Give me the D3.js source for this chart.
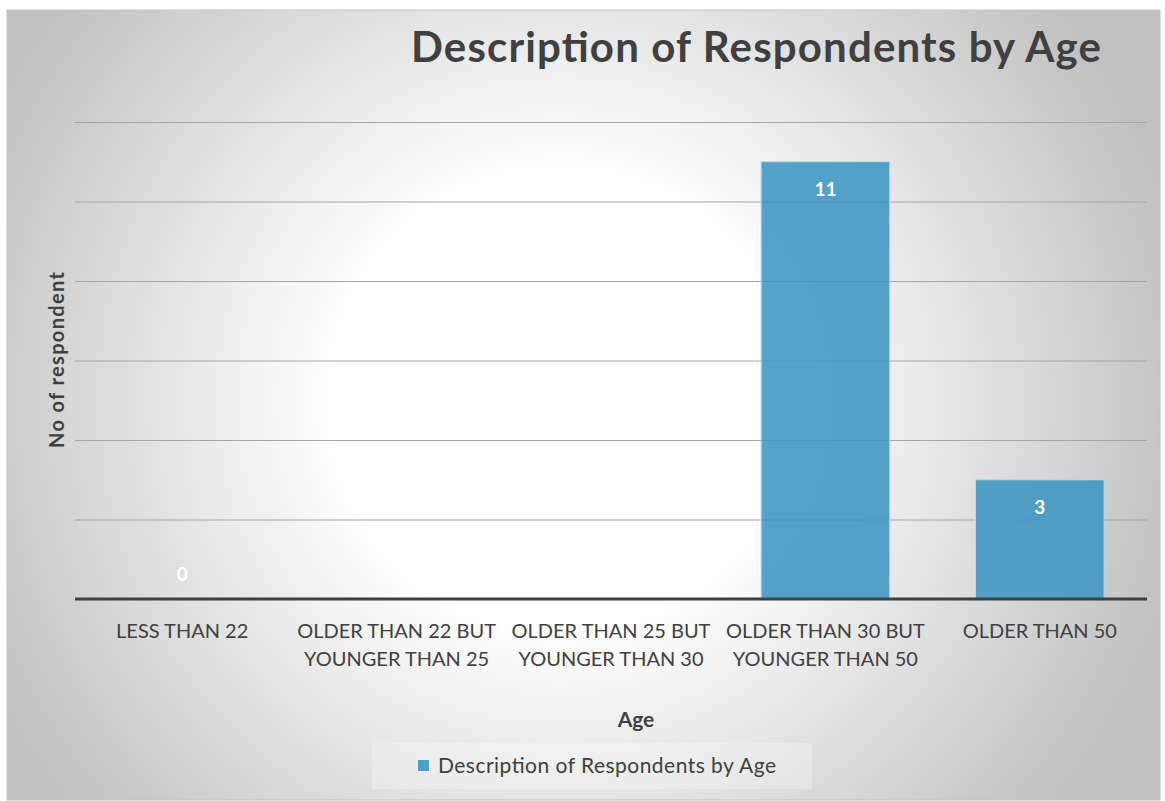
<!DOCTYPE html>
<html>
<head>
<meta charset="utf-8">
<script src="https://cdn.jsdelivr.net/npm/d3@7"></script>
<style>
  html, body { margin: 0; padding: 0; background: #ffffff; }
  svg { display: block; }
  text { font-family: Lato, "Open Sans", sans-serif; }
</style>
</head>
<body>
<div id="chart"></div>
<script>
// ---- data ----
const categories = [
  "LESS THAN 22",
  "OLDER THAN 22 BUT|YOUNGER THAN 25",
  "OLDER THAN 25 BUT|YOUNGER THAN 30",
  "OLDER THAN 30 BUT|YOUNGER THAN 50",
  "OLDER THAN 50"
];
const values = [0, null, null, 11, 3];
const gridTicks = [2, 4, 6, 8, 10, 12];
const seriesName = "Description of Respondents by Age";
const chartTitle = "Description of Respondents by Age";
const xTitle = "Age";
const yTitle = "No of respondent";

// ---- layout ----
const W = 1165, H = 801;
const frame = { x: 7, y: 10, w: 1153, h: 790 };
const plot = { left: 75, right: 1147, top: 122, bottom: 599 };

const svg = d3.select("#chart").append("svg")
  .attr("width", W).attr("height", H);

const defs = svg.append("defs");
const grad = defs.append("radialGradient")
  .attr("id", "bg")
  .attr("gradientUnits", "userSpaceOnUse")
  .attr("cx", 560).attr("cy", 400).attr("r", 640)
  .attr("fx", 560).attr("fy", 400);
grad.append("stop").attr("offset", "0%").attr("stop-color", "#ffffff");
grad.append("stop").attr("offset", "35%").attr("stop-color", "#ffffff");
grad.append("stop").attr("offset", "100%").attr("stop-color", "#c0c0c0");

svg.append("rect")
  .attr("x", frame.x).attr("y", frame.y)
  .attr("width", frame.w).attr("height", frame.h)
  .attr("fill", "url(#bg)")
  .attr("stroke", "#c4c4c4").attr("stroke-width", 1);

const x = d3.scaleBand()
  .domain(categories)
  .range([plot.left, plot.right])
  .paddingInner(0.40)
  .paddingOuter(0.20);

const y = d3.scaleLinear()
  .domain([0, 12])
  .range([plot.bottom, plot.top]);

// gridlines
const grid = svg.append("g")
  .attr("transform", `translate(${plot.left},0)`)
  .call(d3.axisLeft(y).tickValues(gridTicks).tickSize(-(plot.right - plot.left)).tickFormat(""));
grid.select(".domain").remove();
grid.selectAll(".tick line").attr("stroke", "#a6a6a6").attr("stroke-width", 1);

// bars
svg.append("g").selectAll("rect")
  .data(categories.map((c, i) => ({ c, v: values[i] })).filter(d => d.v != null && d.v > 0))
  .join("rect")
  .attr("x", d => x(d.c))
  .attr("y", d => y(d.v))
  .attr("width", x.bandwidth())
  .attr("height", d => y(0) - y(d.v))
  .attr("fill", "#3b97c0")
  .attr("fill-opacity", 0.88)
  .attr("stroke", "#b9dcec")
  .attr("stroke-width", 1);

// x axis
const xAxis = svg.append("g")
  .attr("transform", `translate(0,${plot.bottom})`)
  .call(d3.axisBottom(x).tickSize(0).tickFormat(""));
xAxis.select(".domain").attr("stroke", "#404040").attr("stroke-width", 3)
  .attr("d", `M${plot.left},0H${plot.right}`);

xAxis.selectAll(".tick").each(function(d) {
  const g = d3.select(this);
  const t = g.append("text")
    .attr("fill", "#404040")
    .attr("font-size", 20)
    .attr("text-anchor", "middle");
  d.split("|").forEach((line, i) => {
    t.append("tspan").attr("x", 0).attr("y", 39 + i * 28).text(line);
  });
});

// data labels
svg.append("g").selectAll("text")
  .data(categories.map((c, i) => ({ c, v: values[i] })).filter(d => d.v != null))
  .join("text")
  .attr("x", d => x(d.c) + x.bandwidth() / 2)
  .attr("y", d => d.v === 0 ? y(0) - 18 : y(d.v) + 34)
  .attr("text-anchor", "middle")
  .attr("fill", "#ffffff")
  .attr("font-size", 19)
  .attr("font-weight", "bold")
  .text(d => d.v);

// title
svg.append("text")
  .attr("x", 756).attr("y", 62)
  .attr("text-anchor", "middle")
  .attr("fill", "#404040")
  .attr("font-size", 42)
  .attr("font-weight", "bold")
  .attr("textLength", 690)
  .attr("lengthAdjust", "spacing")
  .text(chartTitle);

// axis titles
svg.append("text")
  .attr("x", 636).attr("y", 727)
  .attr("text-anchor", "middle")
  .attr("fill", "#404040")
  .attr("font-size", 21)
  .attr("font-weight", "bold")
  .text(xTitle);

svg.append("text")
  .attr("transform", "translate(64,360) rotate(-90)")
  .attr("text-anchor", "middle")
  .attr("fill", "#404040")
  .attr("font-size", 20)
  .attr("font-weight", "bold")
  .attr("textLength", 176)
  .attr("lengthAdjust", "spacing")
  .text(yTitle);

// legend
const lg = svg.append("g");
lg.append("rect")
  .attr("x", 372).attr("y", 743).attr("width", 440).attr("height", 46)
  .attr("fill", "#ffffff").attr("fill-opacity", 0.25);
lg.append("rect")
  .attr("x", 418).attr("y", 760).attr("width", 11).attr("height", 11)
  .attr("fill", "#4aa0c5");
lg.append("text")
  .attr("x", 438).attr("y", 773)
  .attr("fill", "#404040")
  .attr("font-size", 21)
  .attr("textLength", 338)
  .attr("lengthAdjust", "spacing")
  .text(seriesName);
</script>
</body>
</html>
